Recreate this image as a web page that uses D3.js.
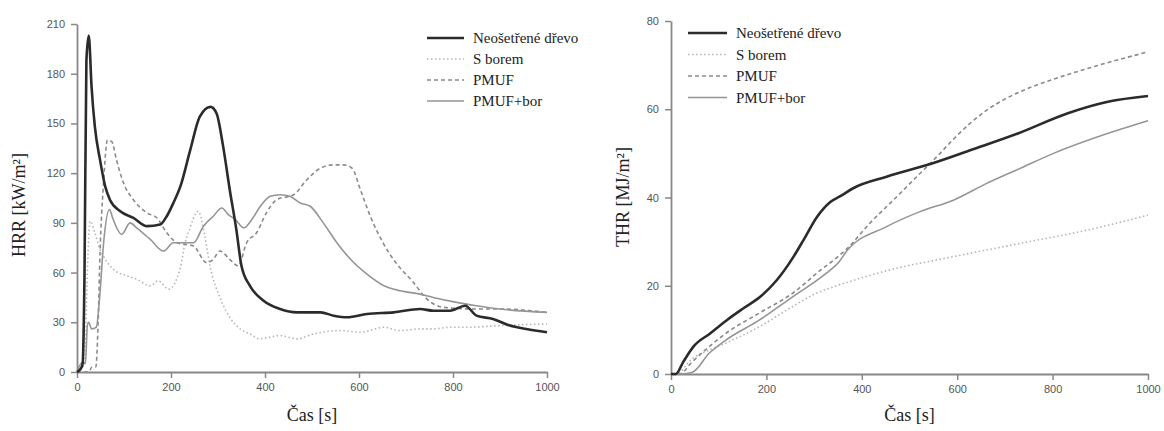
<!DOCTYPE html>
<html>
<head>
<meta charset="utf-8">
<script src="https://cdn.jsdelivr.net/npm/d3@7"></script>
<style>
  body { margin: 0; background: #fff; }
  .axis path, .axis line { stroke: #888; }
</style>
</head>
<body>
<svg width="1164" height="431"></svg>
<script>
// nazivi serija (legenda)
var seriesNames = ["Neošetřené dřevo", "S borem", "PMUF", "PMUF+bor"];

// HRR [kW/m2] - levi graf, vreme [s] i vrednosti
var hrrUntreatedT = [0, 8, 12, 16, 20, 25, 31, 38, 49, 60, 70, 92, 120, 149, 177, 191, 205, 220, 241, 261, 284, 297, 311, 325, 339, 350, 368, 397, 432, 468, 518, 546, 575, 617, 674, 730, 758, 794, 826, 850, 885, 921, 956, 1000];
var hrrUntreatedV = [0, 2, 5, 60, 188, 203, 172, 148, 128, 112, 104, 97, 93, 88, 89, 94, 102, 112, 134, 154, 160, 156, 136, 110, 86, 64, 52, 43, 38, 36, 36, 34, 33, 35, 36, 38, 37, 37, 40, 34, 32, 28, 26, 24];

var hrrBoronT = [0, 10, 17, 22, 28, 38, 49, 56, 77, 106, 127, 156, 173, 195, 220, 230, 237, 258, 272, 283, 304, 325, 347, 368, 389, 410, 432, 450, 468, 504, 560, 603, 653, 687, 730, 758, 794, 830, 900, 1000];
var hrrBoronV = [0, 2, 8, 60, 91, 84, 74, 70, 62, 58, 56, 52, 55, 50, 63, 78, 84, 97, 82, 64, 45, 33, 26, 23, 20, 21, 22, 21, 20, 23, 25, 24, 27, 25, 26, 26, 27, 27, 28, 29];

var hrrPmufT = [0, 25, 32, 40, 45, 49, 56, 65, 74, 84, 99, 120, 149, 170, 191, 213, 248, 276, 290, 304, 325, 343, 361, 382, 403, 425, 461, 489, 518, 546, 567, 585, 603, 624, 653, 681, 716, 741, 780, 844, 900, 1000];
var hrrPmufV = [0, 0, 3, 3, 30, 72, 112, 140, 139, 128, 114, 104, 96, 93, 84, 78, 76, 66, 68, 73, 68, 64, 78, 84, 96, 104, 107, 116, 123, 125, 125, 123, 110, 94, 77, 65, 54, 45, 39, 38, 38, 36];

var hrrPmufBorT = [0, 12, 18, 22, 25, 31, 41, 49, 56, 69, 77, 95, 113, 127, 156, 184, 205, 219, 248, 269, 290, 308, 322, 337, 355, 372, 390, 411, 432, 453, 475, 496, 524, 553, 582, 617, 653, 688, 730, 758, 808, 850, 900, 1000];
var hrrPmufBorV = [0, 6, 5, 28, 30, 26, 27, 48, 76, 98, 92, 83, 90, 87, 80, 73, 78, 78, 78, 88, 94, 99, 95, 92, 87, 92, 100, 106, 107, 106, 102, 100, 90, 78, 68, 59, 52, 49, 47, 45, 42, 40, 38, 36];

// THR [MJ/m2] - desni graf
var thrUntreatedT = [0, 10, 26, 47, 82, 117, 152, 187, 222, 257, 278, 306, 334, 355, 382, 452, 547, 630, 727, 832, 916, 1000];
var thrUntreatedV = [0, 0, 2.8, 6.2, 9.2, 12.2, 14.9, 17.5, 21.3, 26.6, 30.4, 35.6, 39, 40.3, 42.1, 44.7, 47.7, 50.8, 54.5, 59.1, 61.7, 63];

var thrBoronT = [0, 10, 45, 80, 115, 185, 255, 297, 353, 382, 452, 592, 732, 872, 1000];
var thrBoronV = [0, 0, 3.5, 5.4, 7, 10.7, 15.3, 17.9, 20.2, 21.2, 23.4, 26.6, 29.6, 32.6, 36];

var thrPmufT = [0, 17, 45, 80, 115, 185, 255, 312, 350, 368, 417, 466, 515, 557, 592, 627, 662, 700, 750, 802, 907, 1000];
var thrPmufV = [0, 0, 2.8, 6.2, 9.2, 13.8, 18.3, 23.4, 26.6, 28.3, 34.2, 39.4, 44.7, 49.2, 53.2, 56.8, 59.8, 62.3, 64.8, 66.8, 70.3, 73];

var thrPmufBorT = [0, 20, 45, 80, 115, 185, 255, 325, 353, 368, 452, 522, 592, 662, 732, 802, 907, 1000];
var thrPmufBorV = [0, 0, 0.4, 4.7, 7.7, 12.2, 17.5, 22.8, 25.5, 27.8, 33.4, 36.8, 39.4, 43.2, 46.6, 50, 54.2, 57.4];

var xTicks = [0, 200, 400, 600, 800, 1000];
var hrrTicks = [0, 30, 60, 90, 120, 150, 180, 210];
var thrTicks = [0, 20, 40, 60, 80];

var serifFont = "'Liberation Serif', 'DejaVu Serif', 'Times New Roman', serif";
var sansFont = "'Liberation Sans', Arial, sans-serif";

// stil linija po seriji
var styles = [
  { color: "#2b2b2b", width: 2.6, dash: null },
  { color: "#b5b5b5", width: 1.6, dash: "1.5,2.5" },
  { color: "#8a8a8a", width: 1.6, dash: "4,3" },
  { color: "#959595", width: 1.6, dash: null }
];

function zipSeries(t, v) {
  return t.map(function (d, i) { return { t: d, v: v[i] }; });
}

function styleAxis(a) {
  a.select(".domain").attr("stroke-width", 1.8);
  a.selectAll(".tick line").attr("stroke-width", 1.5);
  a.selectAll(".tick text")
    .style("font-family", sansFont)
    .style("font-size", "11px")
    .attr("fill", "#555");
}

var svg = d3.select("svg");

function drawChart(cfg) {
  var x = d3.scaleLinear().domain([0, 1000]).range([cfg.left, cfg.right]);
  var y = d3.scaleLinear().domain([0, cfg.yMax]).range([cfg.bottom, cfg.top]);

  var g = svg.append("g");

  g.append("g")
    .attr("class", "axis")
    .attr("transform", "translate(0," + cfg.bottom + ")")
    .call(d3.axisBottom(x).tickValues(xTicks).tickFormat(d3.format("d"))
      .tickSize(6).tickPadding(5).tickSizeOuter(0))
    .call(styleAxis);

  g.append("g")
    .attr("class", "axis")
    .attr("transform", "translate(" + cfg.left + ",0)")
    .call(d3.axisLeft(y).tickValues(cfg.yTicks).tickFormat(d3.format("d"))
      .tickSize(6).tickPadding(6).tickSizeOuter(0))
    .call(styleAxis);

  var line = d3.line()
    .x(function (d) { return x(d.t); })
    .y(function (d) { return y(d.v); })
    .curve(d3.curveMonotoneX);

  // crtamo odozdo: svetlije serije prvo, tamna na kraju
  [1, 2, 3, 0].forEach(function (i) {
    g.append("path")
      .datum(cfg.series[i])
      .attr("fill", "none")
      .attr("stroke", styles[i].color)
      .attr("stroke-width", styles[i].width)
      .attr("stroke-dasharray", styles[i].dash)
      .attr("stroke-linejoin", "round")
      .attr("d", line);
  });

  // naslovi osa
  g.append("text")
    .attr("x", (cfg.left + cfg.right) / 2)
    .attr("y", 421)
    .attr("text-anchor", "middle")
    .style("font-family", serifFont)
    .style("font-size", "18px")
    .attr("fill", "#222")
    .text("Čas [s]");

  g.append("text")
    .attr("transform", "translate(" + cfg.yTitleX + "," + cfg.yTitleY + ") rotate(-90)")
    .attr("text-anchor", "middle")
    .style("font-family", serifFont)
    .style("font-size", "18px")
    .attr("fill", "#222")
    .text(cfg.yTitle);

  // legenda
  var leg = g.append("g");
  seriesNames.forEach(function (name, i) {
    var ly = cfg.legendY + i * cfg.legendStep;
    leg.append("line")
      .attr("x1", cfg.legendX).attr("x2", cfg.legendX + cfg.legendLen)
      .attr("y1", ly).attr("y2", ly)
      .attr("stroke", styles[i].color)
      .attr("stroke-width", styles[i].width)
      .attr("stroke-dasharray", styles[i].dash);
    leg.append("text")
      .attr("x", cfg.legendX + cfg.legendLen + 9)
      .attr("y", ly + 5)
      .style("font-family", serifFont)
      .style("font-size", "15px")
      .attr("fill", "#222")
      .text(name);
  });
}

drawChart({
  left: 77, right: 547, top: 24, bottom: 372,
  yMax: 210, yTicks: hrrTicks,
  yTitle: "HRR [kW/m²]", yTitleX: 25, yTitleY: 205,
  legendX: 427, legendLen: 37, legendY: 38, legendStep: 21,
  series: [zipSeries(hrrUntreatedT, hrrUntreatedV), zipSeries(hrrBoronT, hrrBoronV),
           zipSeries(hrrPmufT, hrrPmufV), zipSeries(hrrPmufBorT, hrrPmufBorV)]
});

drawChart({
  left: 671, right: 1148, top: 21, bottom: 374,
  yMax: 80, yTicks: thrTicks,
  yTitle: "THR [MJ/m²]", yTitleX: 629, yTitleY: 197,
  legendX: 688, legendLen: 39, legendY: 33, legendStep: 21.5,
  series: [zipSeries(thrUntreatedT, thrUntreatedV), zipSeries(thrBoronT, thrBoronV),
           zipSeries(thrPmufT, thrPmufV), zipSeries(thrPmufBorT, thrPmufBorV)]
});
</script>
</body>
</html>
